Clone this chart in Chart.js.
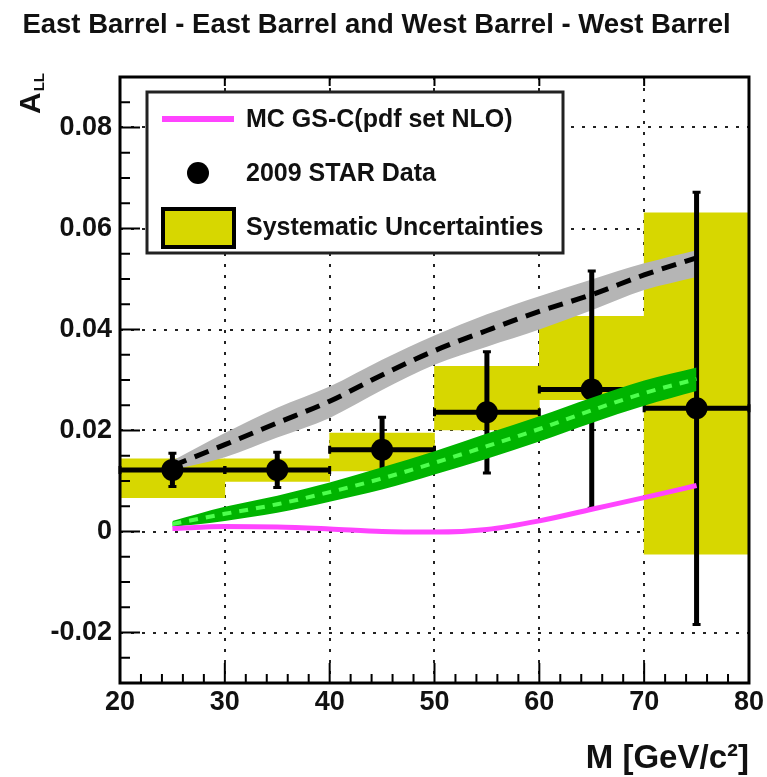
<!DOCTYPE html>
<html>
<head>
<meta charset="utf-8">
<script src="https://cdn.jsdelivr.net/npm/chart.js@4.4.0/dist/chart.umd.min.js"></script>
<style>
  html, body { margin: 0; padding: 0; background: #fff; }
  canvas { display: block; }
</style>
</head>
<body>
<canvas id="chart" width="767" height="777"></canvas>
<script>
// 2009 STAR data points (bin centres, half widths, A_LL, stat errors)
const massBins = [25, 35, 45, 55, 65, 75];
const binHalfWidth = [5, 5, 5, 5, 5, 5];
const allData = [0.0122, 0.0122, 0.0162, 0.0236, 0.0281, 0.0244];
const statErr = [0.0033, 0.0035, 0.0064, 0.0120, 0.0235, 0.0428];
// systematic uncertainty boxes
const sysLow = [0.0067, 0.0099, 0.0120, 0.0201, 0.0261, -0.0045];
const sysHigh = [0.0144, 0.0144, 0.0195, 0.0327, 0.0426, 0.0631];

// theory curves
const curveMass = [25, 30, 35, 40, 45, 50, 55, 60, 65, 70, 75];
const mcNlo = [0.0006, 0.0010, 0.0009, 0.0005, 0.0000, -0.0001, 0.0004, 0.0021, 0.0044, 0.0067, 0.0091];
const grayMid = [0.0130, 0.0172, 0.0215, 0.0258, 0.0310, 0.0358, 0.0398, 0.0436, 0.0469, 0.0508, 0.0542];
const grayHigh = [0.0140, 0.0195, 0.0245, 0.0287, 0.0340, 0.0388, 0.0430, 0.0466, 0.0499, 0.0531, 0.0557];
const grayLow = [0.0122, 0.0147, 0.0186, 0.0225, 0.0280, 0.0330, 0.0366, 0.0400, 0.0438, 0.0478, 0.0504];
const greenMid = [0.0015, 0.0035, 0.0054, 0.0078, 0.0105, 0.0136, 0.0169, 0.0203, 0.0240, 0.0274, 0.0302];
const greenHigh = [0.0021, 0.0049, 0.0071, 0.0097, 0.0127, 0.0159, 0.0194, 0.0228, 0.0265, 0.0299, 0.0325];
const greenLow = [0.0009, 0.0021, 0.0037, 0.0059, 0.0083, 0.0113, 0.0144, 0.0178, 0.0215, 0.0249, 0.0278];

// axes
const xTicks = [20, 30, 40, 50, 60, 70, 80];
const yTicks = [-0.02, 0, 0.02, 0.04, 0.06, 0.08];
const xMinorStep = 2;
const yMinorStep = 0.005;

const FONT = '"Liberation Sans", Arial, Helvetica, sans-serif';
const YELLOW = '#d7d700';
const MAGENTA = '#ff44ff';

const pts = (xs, ys) => xs.map((x, i) => ({ x: x, y: ys[i] }));

function drawErrorBars(chart) {
  const ctx = chart.ctx;
  const xs = chart.scales.x;
  const ys = chart.scales.y;
  ctx.save();
  ctx.strokeStyle = '#000';
  massBins.forEach((m, i) => {
    const px = xs.getPixelForValue(m);
    const py = ys.getPixelForValue(allData[i]);
    const x0 = xs.getPixelForValue(m - binHalfWidth[i]);
    const x1 = xs.getPixelForValue(m + binHalfWidth[i]);
    const y0 = ys.getPixelForValue(allData[i] - statErr[i]);
    const y1 = ys.getPixelForValue(allData[i] + statErr[i]);
    ctx.lineWidth = 5;
    ctx.beginPath();
    ctx.moveTo(x0, py); ctx.lineTo(x1, py);
    ctx.moveTo(px, y0); ctx.lineTo(px, y1);
    ctx.stroke();
    // little end caps
    ctx.lineWidth = 3;
    ctx.beginPath();
    ctx.moveTo(px - 4, y0); ctx.lineTo(px + 4, y0);
    ctx.moveTo(px - 4, y1); ctx.lineTo(px + 4, y1);
    ctx.moveTo(x0, py - 4); ctx.lineTo(x0, py + 4);
    ctx.moveTo(x1, py - 4); ctx.lineTo(x1, py + 4);
    ctx.stroke();
  });
  ctx.restore();
}

function drawLegend(ctx) {
  const bx = 147, by = 92, bw = 416, bh = 161;
  ctx.save();
  ctx.fillStyle = '#fff';
  ctx.fillRect(bx, by, bw, bh);
  ctx.strokeStyle = '#222';
  ctx.lineWidth = 3;
  ctx.strokeRect(bx, by, bw, bh);

  ctx.font = 'bold 25px ' + FONT;
  ctx.fillStyle = '#111';
  ctx.textAlign = 'left';
  ctx.textBaseline = 'middle';

  // row 1: magenta line
  ctx.strokeStyle = MAGENTA;
  ctx.lineWidth = 6;
  ctx.beginPath();
  ctx.moveTo(162, 119); ctx.lineTo(234, 119);
  ctx.stroke();
  ctx.fillText('MC GS-C(pdf set NLO)', 246, 120);

  // row 2: marker
  ctx.fillStyle = '#000';
  ctx.beginPath();
  ctx.arc(198, 173, 11, 0, Math.PI * 2);
  ctx.fill();
  ctx.fillStyle = '#111';
  ctx.fillText('2009 STAR Data', 246, 174);

  // row 3: box
  ctx.fillStyle = YELLOW;
  ctx.fillRect(163, 209, 71, 38);
  ctx.strokeStyle = '#000';
  ctx.lineWidth = 4;
  ctx.strokeRect(163, 209, 71, 38);
  ctx.fillStyle = '#111';
  ctx.fillText('Systematic Uncertainties', 246, 228);
  ctx.restore();
}

function drawFrameAndTicks(chart) {
  const ctx = chart.ctx;
  const { left, right, top, bottom } = chart.chartArea;
  const xs = chart.scales.x;
  const ys = chart.scales.y;
  ctx.save();
  ctx.strokeStyle = '#000';
  ctx.lineWidth = 2;
  ctx.beginPath();
  const nx = Math.round((xs.max - xs.min) / xMinorStep);
  for (let k = 0; k <= nx; k++) {
    const v = xs.min + k * xMinorStep;
    const px = xs.getPixelForValue(v);
    const major = xTicks.some(t => Math.abs(t - v) < 1e-6);
    ctx.moveTo(px, bottom);
    ctx.lineTo(px, bottom - (major ? 20 : 9));
    if (major) {
      ctx.moveTo(px, top);
      ctx.lineTo(px, top + 9);
    }
  }
  const ny = Math.round((ys.max - ys.min) / yMinorStep);
  for (let k = 0; k <= ny; k++) {
    const v = ys.min + k * yMinorStep;
    const py = ys.getPixelForValue(v);
    const major = yTicks.some(t => Math.abs(t - v) < 1e-6);
    ctx.moveTo(left, py);
    ctx.lineTo(left + (major ? 20 : 10), py);
  }
  ctx.stroke();

  ctx.lineWidth = 3;
  ctx.strokeRect(left, top, right - left, bottom - top);

  // y axis title A_LL, rotated
  ctx.translate(40, 114);
  ctx.rotate(-Math.PI / 2);
  ctx.fillStyle = '#111';
  ctx.textAlign = 'left';
  ctx.textBaseline = 'alphabetic';
  ctx.font = 'bold 30px ' + FONT;
  ctx.fillText('A', 0, 0);
  const aw = ctx.measureText('A').width;
  ctx.font = 'bold 15px ' + FONT;
  ctx.fillText('LL', aw + 1, 4);
  ctx.restore();
}

const rootStyle = {
  id: 'rootStyle',
  beforeDatasetDraw(chart, args) {
    if (args.index === 4) drawErrorBars(chart);
  },
  afterDatasetsDraw(chart) {
    drawLegend(chart.ctx);
  },
  afterDraw(chart) {
    drawFrameAndTicks(chart);
  }
};

const line = (data, extra) => Object.assign({
  type: 'line',
  data: data,
  pointRadius: 0,
  borderWidth: 0,
  fill: false,
  cubicInterpolationMode: 'monotone'
}, extra);

new Chart(document.getElementById('chart'), {
  type: 'line',
  data: {
    datasets: [
      {
        type: 'bar',
        data: massBins.map((m, i) => ({ x: m, y: [sysLow[i], sysHigh[i]] })),
        backgroundColor: YELLOW,
        borderWidth: 0,
        barPercentage: 1,
        categoryPercentage: 1,
        order: 10
      },
      line(pts(curveMass, grayLow), { order: 9 }),
      line(pts(curveMass, grayHigh), { order: 9, fill: 1, backgroundColor: '#b5b5b5' }),
      line(pts(curveMass, grayMid), { order: 8, borderWidth: 5, borderColor: '#000', borderDash: [15, 9] }),
      {
        type: 'line',
        data: pts(massBins, allData),
        showLine: false,
        pointRadius: 11,
        pointBackgroundColor: '#000',
        pointBorderWidth: 0,
        order: 5
      },
      line(pts(curveMass, greenLow), { order: 4 }),
      line(pts(curveMass, greenHigh), { order: 4, fill: 5, backgroundColor: '#00b400' }),
      line(pts(curveMass, greenMid), { order: 3, borderWidth: 4, borderColor: '#4dff4d', borderDash: [9, 8] }),
      line(pts(curveMass, mcNlo), { order: 2, borderWidth: 5, borderColor: MAGENTA })
    ]
  },
  options: {
    responsive: false,
    devicePixelRatio: 1,
    animation: false,
    events: [],
    layout: { padding: { left: 0, right: 14, top: 0, bottom: 0 } },
    plugins: {
      legend: { display: false },
      tooltip: { enabled: false },
      title: {
        display: true,
        text: 'East Barrel - East Barrel and West Barrel - West Barrel',
        color: '#111',
        font: { family: FONT, size: 27.5, weight: 'bold', lineHeight: 1.2 },
        padding: { top: 9, bottom: 35 }
      }
    },
    scales: {
      x: {
        type: 'linear',
        min: 20,
        max: 80,
        offset: false,
        afterFit(scale) { scale.height = 94; },
        afterBuildTicks(scale) { scale.ticks = xTicks.map(v => ({ value: v })); },
        ticks: {
          color: '#111',
          padding: 3,
          maxRotation: 0,
          font: { family: FONT, size: 27, weight: 'bold' },
          callback: v => String(v)
        },
        grid: { offset: false, color: '#222', lineWidth: 2, drawTicks: false },
        border: { display: false, dash: [3, 8] },
        title: {
          display: true,
          text: 'M [GeV/c²]',
          align: 'end',
          color: '#111',
          font: { family: FONT, size: 33, weight: 'bold', lineHeight: 1.1 },
          padding: { top: 0, bottom: 0 }
        }
      },
      y: {
        type: 'linear',
        min: -0.03,
        max: 0.09,
        afterFit(scale) { scale.width = 120; },
        afterBuildTicks(scale) { scale.ticks = yTicks.map(v => ({ value: v })); },
        ticks: {
          color: '#111',
          padding: 8,
          font: { family: FONT, size: 27, weight: 'bold' },
          callback: v => (Math.abs(v) < 1e-9 ? '0' : v.toFixed(2))
        },
        grid: { color: '#222', lineWidth: 2, drawTicks: false },
        border: { display: false, dash: [3, 8] }
      }
    }
  },
  plugins: [rootStyle]
});
</script>
</body>
</html>
